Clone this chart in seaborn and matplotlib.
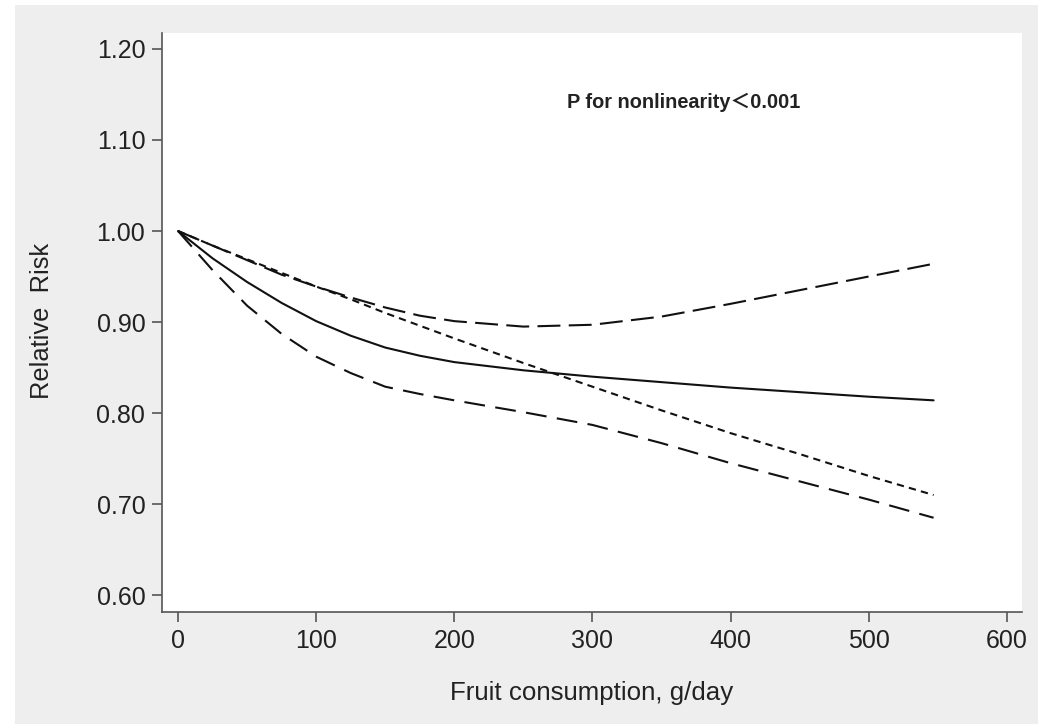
import numpy as np
import pandas as pd
import matplotlib
matplotlib.use("Agg")
import matplotlib.pyplot as plt
from matplotlib.patches import Rectangle
import seaborn as sns

# Data
consumption = [0, 25, 50, 75, 100, 125, 150, 175, 200, 250, 300, 350, 400, 450, 500, 547]
rr_spline = [1.000, 0.970, 0.944, 0.921, 0.901, 0.885, 0.872, 0.863, 0.856, 0.847, 0.840, 0.834, 0.828, 0.823, 0.818, 0.814]
ci_lower = [1.000, 0.957, 0.918, 0.887, 0.862, 0.844, 0.829, 0.821, 0.814, 0.801, 0.787, 0.767, 0.745, 0.725, 0.705, 0.685]
ci_upper = [1.000, 0.984, 0.968, 0.952, 0.939, 0.927, 0.916, 0.907, 0.901, 0.895, 0.897, 0.906, 0.920, 0.935, 0.950, 0.964]
rr_linear = [1.000, 0.984, 0.969, 0.954, 0.939, 0.925, 0.910, 0.896, 0.882, 0.855, 0.829, 0.803, 0.778, 0.755, 0.731, 0.710]

x_ticks = [0, 100, 200, 300, 400, 500, 600]
y_ticks = [0.60, 0.70, 0.80, 0.90, 1.00, 1.10, 1.20]

sns.set_theme(style="ticks")
plt.rcParams['font.family'] = ['Liberation Sans', 'Noto Sans CJK SC', 'DejaVu Sans']

fig = plt.figure(figsize=(10.38, 7.24), dpi=100)
fig.patch.set_facecolor('white')
fig.add_artist(Rectangle((15/1038, 0), 1 - 15/1038, 1 - 5/724, transform=fig.transFigure,
                         facecolor='#eeeeee', edgecolor='none', zorder=-10))

ax = fig.add_axes([162/1038, 1 - 612/724, (1022 - 162)/1038, (612 - 33)/724])
ax.set_facecolor('white')

df = pd.DataFrame({'x': consumption, 'spline': rr_spline, 'lower': ci_lower,
                   'upper': ci_upper, 'linear': rr_linear})

styles = {
    'upper': (0, (11, 4)),
    'lower': (0, (10, 5)),
    'linear': (0, (3.5, 2.5)),
    'spline': '-',
}
for col, ls in styles.items():
    sns.lineplot(data=df, x='x', y=col, ax=ax, color='#111111', lw=1.5, linestyle=ls)

ax.set_xlim(-11.6, 611)
ax.set_ylim(0.5815, 1.2175)
ax.set_xticks(x_ticks)
ax.set_yticks(y_ticks)
ax.set_yticklabels([f"{v:.2f}" for v in y_ticks])

for s in ['top', 'right']:
    ax.spines[s].set_visible(False)
for s in ['left', 'bottom']:
    ax.spines[s].set_color('#555555')
    ax.spines[s].set_linewidth(1.2)
ax.tick_params(axis='both', direction='out', length=7, width=1.2, color='#555555',
               labelsize=18, labelcolor='#222222', pad=5)

ax.set_xlabel('Fruit consumption, g/day', fontsize=18.6, color='#222222')
ax.set_ylabel('Relative  Risk', fontsize=18.4, color='#222222')
ax.xaxis.set_label_coords(0.5, -(693 - 612) / (612 - 33), transform=ax.transAxes)
ax.yaxis.set_label_coords(-(162 - 42) / (1022 - 162), (612 - 321) / (612 - 33), transform=ax.transAxes)
ax.xaxis.label.set_va('center')
ax.yaxis.label.set_va('center')

ax.text(366, 1.141, 'P for nonlinearity\uff1c0.001', fontsize=14.3, fontweight='bold',
        color='#222222', ha='center', va='center')

fig.savefig('out.png', dpi=100)
